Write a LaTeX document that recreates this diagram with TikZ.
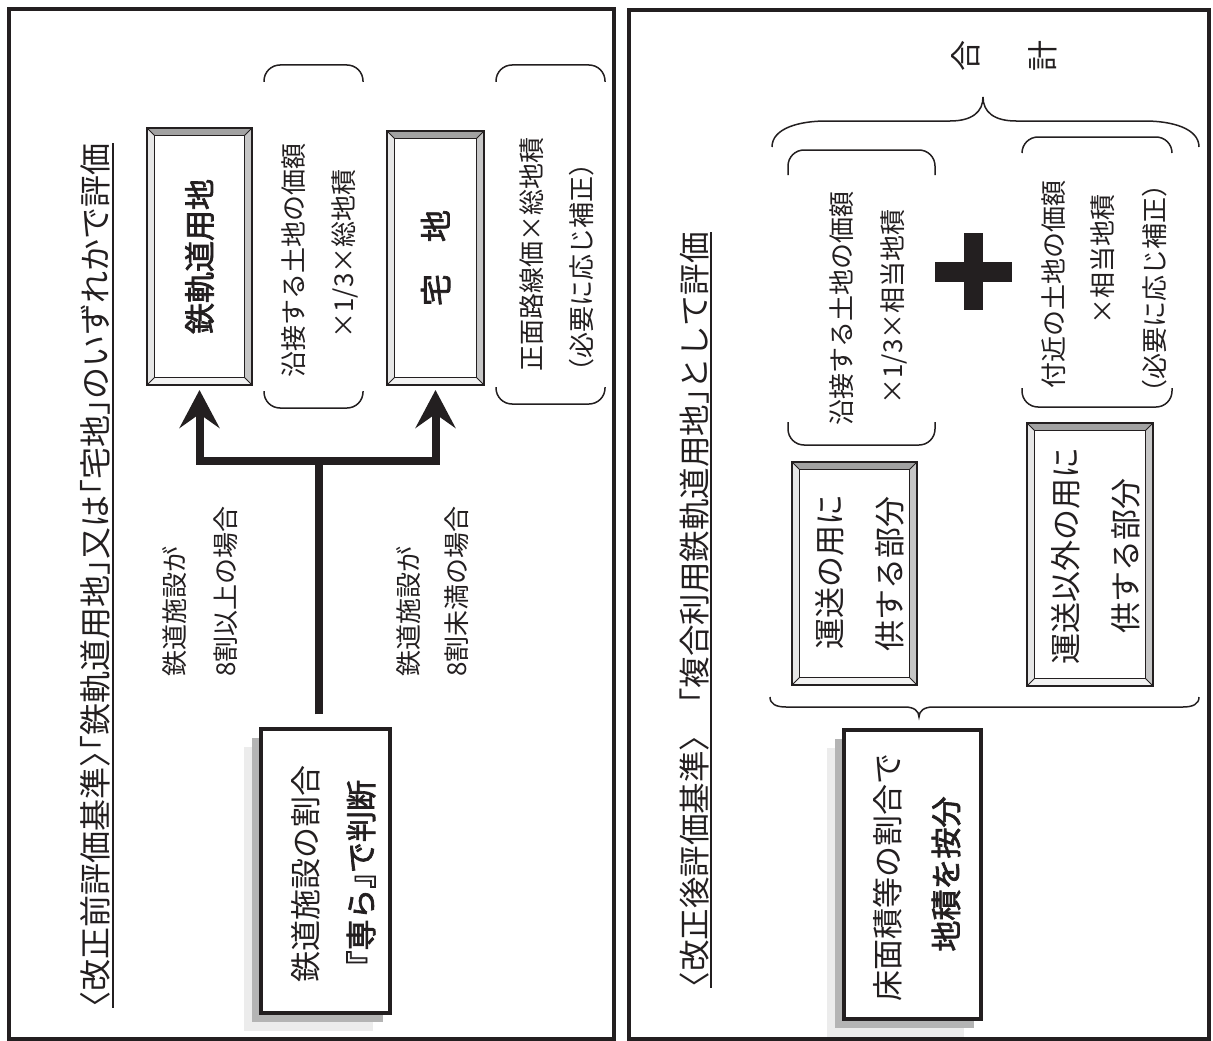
\documentclass[tikz,border=0pt]{standalone}
\usepackage{fontspec}
\setmainfont{Noto Sans CJK JP}
\newfontfamily\bfjp{Noto Sans CJK JP}[FakeBold=2.2]
\usetikzlibrary{arrows.meta}
\newcommand\fsz[1]{\fontsize{#1pt}{#1pt}\selectfont}
\definecolor{bevtop}{HTML}{A2A2A2}
\definecolor{bevright}{HTML}{C6C6C6}
\definecolor{bevleft}{HTML}{E6E6E6}
\definecolor{bevbot}{HTML}{F2F2F2}
\definecolor{shdark}{HTML}{B4B4B4}
\definecolor{shlight}{HTML}{ECECEC}
\definecolor{ink}{HTML}{231F20}
% bevelled box: name, x1, y1, x2, y2 (image coordinates)
\newcommand\bevbox[5]{%
  \fill[bevtop] (#2,#3) -- (#4,#3) -- ({#4-7.5},{#3+7.5}) -- ({#2+7.5},{#3+7.5}) -- cycle;
  \fill[bevright] (#4,#3) -- (#4,#5) -- ({#4-7.5},{#5-7.5}) -- ({#4-7.5},{#3+7.5}) -- cycle;
  \fill[bevbot] (#2,#5) -- (#4,#5) -- ({#4-7.5},{#5-7.5}) -- ({#2+7.5},{#5-7.5}) -- cycle;
  \fill[bevleft] (#2,#3) -- (#2,#5) -- ({#2+7.5},{#5-7.5}) -- ({#2+7.5},{#3+7.5}) -- cycle;
  \node[draw=ink, line width=2pt, inner sep=0pt, outer sep=0pt,
        minimum width={(#4-#2)*1pt}, minimum height={(#5-#3)*1pt}]
        (#1) at ({(#2+#4)/2},{(#3+#5)/2}) {};
  \draw[ink, line width=1.6pt] ({#2+7.5},{#3+7.5}) rectangle ({#4-7.5},{#5-7.5});
  \draw[ink, line width=1pt] (#2,#3) -- ({#2+7.5},{#3+7.5})
        (#4,#3) -- ({#4-7.5},{#3+7.5})
        (#4,#5) -- ({#4-7.5},{#5-7.5})
        (#2,#5) -- ({#2+7.5},{#5-7.5});
}
% shadowed box: name, x1, y1, x2, y2
\newcommand\shbox[5]{%
  \fill[shlight] ({#2-17},{#3+18}) rectangle ({#4-17},{#5+18});
  \fill[shdark] ({#2-9},{#3+9}) rectangle ({#4-7},{#5+9});
  \node[draw=ink, fill=white, line width=4pt, inner sep=0pt, outer sep=0pt,
        minimum width={(#4-#2)*1pt}, minimum height={(#5-#3)*1pt}]
        (#1) at ({(#2+#4)/2},{(#3+#5)/2}) {};
}
% pair of rounded brackets: x1, x2, ytop, ytopend, ybotend, ybot
\newcommand\parpair[6]{%
  \draw[brk] (#1,#4) -- (#1,#3) -- (#2,#3) -- (#2,#4);
  \draw[brk] (#1,#5) -- (#1,#6) -- (#2,#6) -- (#2,#5);
}
\newcommand\hk{\kern-.5em{}}
\begin{document}
\begin{tikzpicture}[x=1pt,y=-1pt,
  panel/.style={draw=ink, line width=4pt},
  uline/.style={draw=ink, line width=1.5pt},
  ttl/.style={rotate=90, inner sep=0pt, text=ink, font=\fsz{32}},
  ttlb/.style={rotate=90, inner sep=0pt, text=ink, font=\fsz{31.5}},
  lbl/.style={rotate=90, inner sep=0pt, text=ink, font=\fsz{26}},
  btxt/.style={rotate=90, inner sep=0pt, text=ink, font=\fsz{31}},
  bbtxt/.style={rotate=90, inner sep=0pt, text=ink, font=\fsz{31}\bfjp},
  brk/.style={draw=ink, line width=1.5pt, rounded corners=16pt},
  brc/.style={draw=ink, line width=1.5pt},
  flow/.style={draw=ink, line width=8pt, line join=miter,
    -{Stealth[length=38pt,width=40pt,inset=14pt]}},
]
\useasboundingbox (0,0) rectangle (1213,1041);
\fill[white] (0,0) rectangle (1213,1041);

% ---------- left panel ----------
\draw[panel] (9,9.5) rectangle (614,1038.5);
\node[ttl] (t1) at (95,575.5)
  {\hk〈改正前評価基準〉\hk\hk「鉄軌道用地」\hk 又は\hk「宅地」\hk のいずれかで評価};
\coordinate (u1) at (113,0);
\draw[uline] (u1 |- t1.west) -- (u1 |- t1.east);

\bevbox{rail}{147}{128}{252}{385}
\node[bbtxt] (railt) at (rail) {鉄軌道用地};
\bevbox{taku}{387}{131}{484}{385}
\node[bbtxt, font=\fsz{32}\bfjp] (takut) at (taku) {宅　地};

\parpair{264}{363}{65}{82}{391}{408}
\node[lbl] (la1) at (294,260) {沿接する土地の価額};
\node[lbl] (la2) at (345,254) {×1/3×総地積};
\parpair{496}{605}{65}{82}{387}{404}
\node[lbl] (lb1) at (532,254) {正面路線価×総地積};
\node[lbl] (lb2) at (582,267) {\hk（必要に応じ補正）\hk};

\node[lbl, anchor=west] (c1a) at (175,677) {鉄道施設が};
\node[lbl, anchor=west] (c1b) at (226,677) {8割以上の場合};
\node[lbl, anchor=west] (c2a) at (409,677) {鉄道施設が};
\node[lbl, anchor=west] (c2b) at (457,677) {8割未満の場合};

\shbox{judge1}{261}{729}{390}{1013}
\node[btxt] (j1a) at (306,874) {鉄道施設の割合};
\node[bbtxt] (j1b) at (361,873) {\hk『専ら』\hk で判断};

\coordinate (fork) at (319,461);
\draw[flow] ([xshift=-6.5pt,yshift=15pt]judge1.north) -- (fork) -| ([yshift=-5pt]rail.south);
\draw[flow] ([xshift=-6.5pt,yshift=15pt]judge1.north) -- (fork) -| ([yshift=-5pt]taku.south);

% ---------- right panel ----------
\draw[panel] (629,10) rectangle (1209,1039);
\node[ttlb] (t2) at (695,610)
  {\hk〈改正後評価基準〉\hk　\hk「複合利用鉄軌道用地」\hk として評価};
\coordinate (u2) at (711,0);
\draw[uline] (u2 |- t2.west) -- (u2 |- t2.east);

\node[btxt] (sum1) at (966,56) {合};
\node[btxt] (sum2) at (1043,56) {計};
\draw[brc] (772,147) .. controls (772,128) and (800,121) .. (826,121) -- (950,121)
  .. controls (972,121) and (983,112) .. (983,97)
  .. controls (983,112) and (994,121) .. (1016,121) -- (1145,121)
  .. controls (1171,121) and (1199,128) .. (1199,147);

\parpair{788}{935}{150}{175}{422}{445}
\node[lbl] (ra1) at (842,308) {沿接する土地の価額};
\node[lbl] (ra2) at (894,307) {×1/3×相当地積};

\fill[ink] (935,262) rectangle (1012,282);
\fill[ink] (964,233) rectangle (983,310);

\parpair{1022}{1172}{137}{153}{388}{407}
\node[lbl] (rb1) at (1054,284) {付近の土地の価額};
\node[lbl] (rb2) at (1103,259) {×相当地積};
\node[lbl] (rb3) at (1155,288) {\hk（必要に応じ補正）\hk};

\bevbox{unso}{792}{462}{917}{685}
\node[btxt] (unso1) at (830,572) {運送の用に};
\node[btxt] (unso2) at (890,574) {供する部分};
\bevbox{igai}{1027}{423}{1153}{686}
\node[btxt] (igai1) at (1066,556) {運送以外の用に};
\node[btxt] (igai2) at (1126,556) {供する部分};

\draw[brc] (770,697) .. controls (770,704) and (776,707) .. (786,707) -- (905,707)
  .. controls (914,707) and (919,711) .. (919,717)
  .. controls (919,711) and (924,707) .. (933,707) -- (1183,707)
  .. controls (1193,707) and (1199,704) .. (1199,697);

\shbox{judge2}{844}{730}{981}{1019}
\node[btxt] (j2a) at (888,877) {床面積等の割合で};
\node[bbtxt] (j2b) at (946,874) {地積を按分};
\end{tikzpicture}
\end{document}
